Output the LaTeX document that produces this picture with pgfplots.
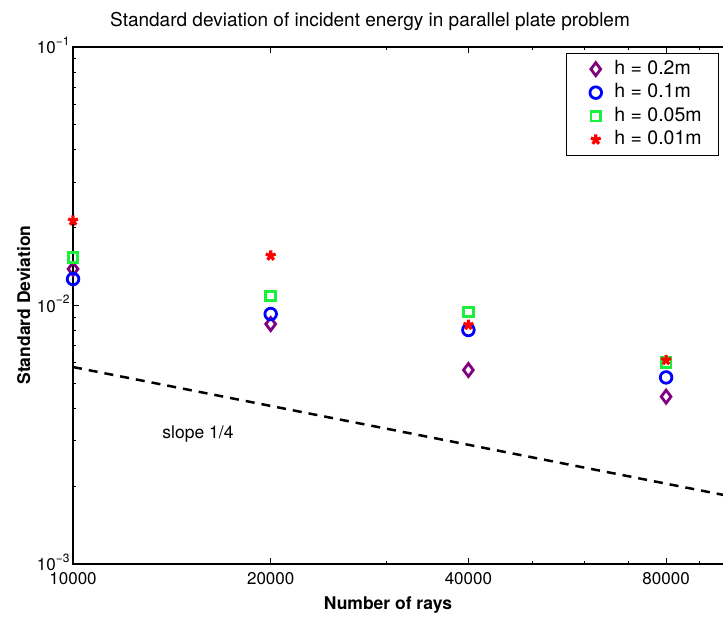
\documentclass[border=0pt]{standalone}
\usepackage{fontspec}
\setmainfont{TeX Gyre Heros}
\usepackage{pgfplots}
\pgfplotsset{compat=1.18}
\definecolor{mpurple}{rgb}{0.5,0,0.5}
\definecolor{mgreen}{RGB}{25,240,60}
\newcommand{\tp}[1]{10\raisebox{0.5em}{\fontsize{12}{12}\selectfont −#1}}
\begin{document}
\begin{tikzpicture}
\begin{axis}[
  at={(73pt,53pt)}, anchor=south west,
  scale only axis, width=656.7pt, height=517pt,
  xmode=log, ymode=log,
  xmin=10000, xmax=100000, ymin=0.001, ymax=0.1,
  xtick={10000,20000,40000,80000},
  xticklabels={10000,20000,40000,80000},
  minor xtick={30000,50000,60000,70000,90000},
  ytick={0.001,0.01,0.1},
  yticklabels={\tp{3},\tp{2},\tp{1}},
  minor ytick={0.002,0.003,0.004,0.005,0.006,0.007,0.008,0.009,0.02,0.03,0.04,0.05,0.06,0.07,0.08,0.09},
  tick align=inside,
  major tick length=6pt, minor tick length=3pt,
  every tick/.style={black, line width=0.8pt},
  axis line style={line width=1.2pt},
  tick label style={font=\fontsize{17}{20}\selectfont},
  xticklabel style={yshift=-5pt},
  yticklabel style={yshift=1.5pt},
  clip mode=individual,
  legend image code/.code={\path (0pt,0pt) (28pt,0pt); \draw[mark repeat=2,mark phase=2,#1] plot coordinates {(0pt,0pt)(14pt,0pt)(28pt,0pt)};},
  legend style={at={(0.9837,0.9884)}, anchor=north east, draw=black, line width=0.8pt, fill=white,
    font=\fontsize{19.5}{22}\selectfont, inner xsep=14pt, inner ysep=4pt,
    nodes={text height=14pt, text depth=4pt, inner ysep=2.75pt, inner xsep=3pt},
    cells={anchor=west}},
]
\addplot[only marks, mark=diamond, mark size=6.5pt, color=mpurple, line width=2.8pt]
  coordinates {(10000,0.01384)(20000,0.00848)(40000,0.00563)(80000,0.00444)};
\addlegendentry{h = 0.2m}
\addplot[only marks, mark=o, mark size=5.8pt, color=blue, line width=2.8pt]
  coordinates {(10000,0.01266)(20000,0.00927)(40000,0.00804)(80000,0.00527)};
\addlegendentry{h = 0.1m}
\addplot[only marks, mark=square, mark size=4.8pt, color=mgreen, line width=2.8pt]
  coordinates {(10000,0.01536)(20000,0.01088)(40000,0.00944)(80000,0.00601)};
\addlegendentry{h = 0.05m}
\addplot[only marks, mark=star, mark size=5.2pt, color=red, line width=3.2pt]
  coordinates {(10000,0.0213)(20000,0.01559)(40000,0.00841)(80000,0.00615)};
\addlegendentry{h = 0.01m}
\addplot[black, line width=2.5pt, dash pattern=on 9pt off 7pt, forget plot]
  coordinates {(10000,0.00578)(100000,0.00183)};
\node[font=\fontsize{17.5}{20}\selectfont] at (axis cs:15500,0.00318) {slope 1/4};
\end{axis}
\node[anchor=base, font=\fontsize{19}{22}\selectfont] at (370pt,590pt) {Standard deviation of incident energy in parallel plate problem};
\node[anchor=base, font=\fontsize{17.5}{20}\selectfont\bfseries] at (388pt,7pt) {Number of rays};
\node[anchor=base, rotate=90, font=\fontsize{17.5}{20}\selectfont\bfseries] at (30pt,312pt) {Standard Deviation};
\pgfresetboundingbox
\path[use as bounding box] (0pt,0pt) rectangle (723pt,617pt);
\end{tikzpicture}
\end{document}
